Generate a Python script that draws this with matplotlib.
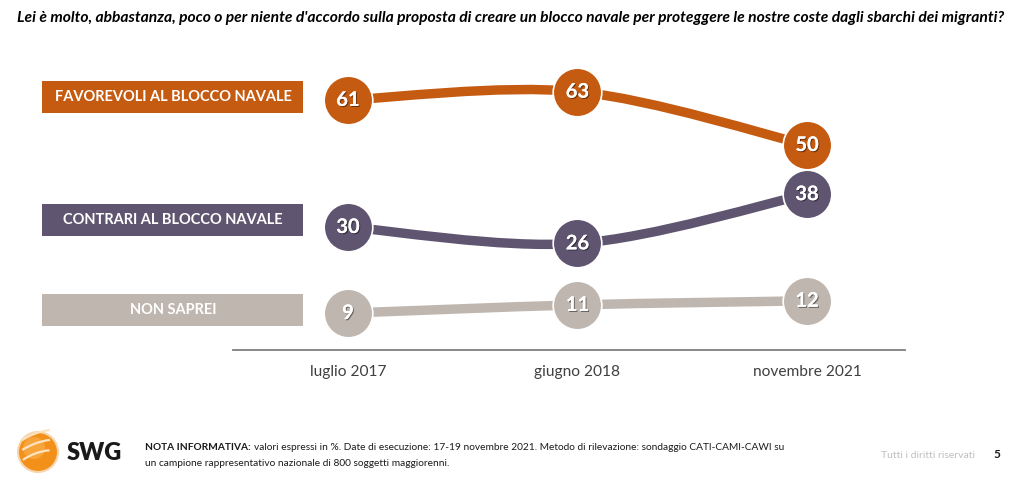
import numpy as np
import matplotlib.pyplot as plt
import matplotlib.patheffects as pe
from matplotlib.path import Path
from matplotlib.patches import PathPatch, Rectangle, Circle, Arc

plt.rcParams['font.family'] = ['Lato', 'DejaVu Sans']

# ==============================================================================
# dati
# ==============================================================================
periodi = ['luglio 2017', 'giugno 2018', 'novembre 2021']
favorevoli = [61, 63, 50]
contrari = [30, 26, 38]
non_saprei = [9, 11, 12]

serie = [
    ('FAVOREVOLI AL BLOCCO NAVALE', favorevoli, '#C55A11'),
    ('CONTRARI AL BLOCCO NAVALE', contrari, '#605570'),
    ('NON SAPREI', non_saprei, '#BFB6AF'),
]

titolo = ("Lei è molto, abbastanza, poco o per niente d'accordo sulla proposta di creare "
          "un blocco navale per proteggere le nostre coste dagli sbarchi dei migranti?")


def curva_smussata(xs, ys):
    # segmenti di Bézier tipo Catmull-Rom (come la linea smussata di Excel)
    pts = np.column_stack([xs, ys]).astype(float)
    ext = np.vstack([pts[0], pts, pts[-1]])
    verts = [pts[0]]
    codes = [Path.MOVETO]
    for i in range(len(pts) - 1):
        p0, p1, p2, p3 = ext[i], ext[i + 1], ext[i + 2], ext[i + 3]
        c1 = p1 + (p2 - p0) / 6
        c2 = p2 - (p3 - p1) / 6
        verts += [c1, c2, p2]
        codes += [Path.CURVE4] * 3
    return Path(verts, codes)


# ==============================================================================
# figura
# ==============================================================================
W, H = 1024, 499
fig = plt.figure(figsize=(W / 100, H / 100), dpi=100)
fig.patch.set_facecolor('white')

ax = fig.add_axes([233 / W, 1 - 350 / H, (905 - 233) / W, (350 - 60) / H])
ax.set_xlim(-0.501, 2.427)
ax.set_ylim(0, 290 / 4.1)
ax.axis('off')
ax.plot([-0.501, 2.427], [0, 0], color='#7F7F7F', lw=1.3, clip_on=False, zorder=1)

x = np.arange(len(periodi))
shadow = [pe.withSimplePatchShadow(offset=(0.8, -0.8), shadow_rgbFace='black', alpha=0.45), pe.Normal()]

for nome, vals, col in serie:
    path = curva_smussata(x, vals)
    ax.add_patch(PathPatch(path, facecolor='none', edgecolor=col, lw=6.8,
                           capstyle='butt', zorder=2, transform=ax.transData))
    ax.plot(x, vals, 'o', ms=35, color=col, mec='white', mew=1.2, zorder=3)
    for xi, v in zip(x, vals):
        ax.text(xi, v, str(v), ha='center', va='center', color='white',
                fontsize=14.5, fontweight='bold', zorder=4, path_effects=shadow)

for xi, p in zip(x, periodi):
    ax.text(xi, -5.4, p, ha='center', va='center', fontsize=11.2, color='#404040')

# etichette a sinistra
box_y = [(81, 113), (204, 236), (294, 326)]
for (nome, vals, col), (y0, y1) in zip(serie, box_y):
    fig.patches.append(Rectangle((42 / W, 1 - y1 / H), (303 - 42) / W, (y1 - y0) / H,
                                 transform=fig.transFigure, facecolor=col, edgecolor='none'))
    fig.text(173 / W, 1 - (y0 + y1) / 2 / H, nome, ha='center', va='center',
             color='white', fontsize=10.5, fontweight='bold')

# titolo
fig.text(511 / W, 1 - 18 / H, titolo, ha='center', va='center', fontsize=11.25,
         fontweight='bold', style='italic', color='black')

# ==============================================================================
# piè di pagina
# ==============================================================================
lax = fig.add_axes([0, 0, 1, 1], zorder=-1)
lax.set_xlim(0, W)
lax.set_ylim(H, 0)
lax.axis('off')
lax.add_patch(Circle((38, 452), 20, facecolor='#F39019', edgecolor='#F6D6B0', lw=1.5))
lax.add_patch(Circle((34, 448), 11, facecolor='#F7A43A', edgecolor='none'))
for dy, w in [(-12, 44), (-2, 46), (8, 42)]:
    lax.add_patch(Arc((38, 452 + dy), w, 14, angle=-20, theta1=200, theta2=340,
                      color='#FCE3C2', lw=1.6))
lax.text(67, 453, 'SWG', ha='left', va='center', fontsize=17, fontweight='heavy', color='#1A1A1A')

t1 = fig.text(145 / W, 1 - 448 / H, 'NOTA INFORMATIVA:', ha='left', va='center',
              fontsize=7.3, fontweight='bold', color='#1A1A1A')
fig.canvas.draw()
bb = t1.get_window_extent()
fig.text((bb.x1 + 3) / W, 1 - 448 / H,
         'valori espressi in %. Date di esecuzione: 17-19 novembre 2021. '
         'Metodo di rilevazione: sondaggio CATI-CAMI-CAWI su',
         ha='left', va='center', fontsize=7.3, color='#1A1A1A')
fig.text(145 / W, 1 - 464 / H, 'un campione rappresentativo nazionale di 800 soggetti maggiorenni.',
         ha='left', va='center', fontsize=7.3, color='#1A1A1A')
fig.text(975 / W, 1 - 455 / H, 'Tutti i diritti riservati', ha='right', va='center',
         fontsize=7.5, color='#BFBFBF')
fig.text(997 / W, 1 - 455 / H, '5', ha='center', va='center', fontsize=8.5,
         fontweight='bold', color='#1A1A1A')

fig.savefig('out.png', dpi=100, facecolor='white')
